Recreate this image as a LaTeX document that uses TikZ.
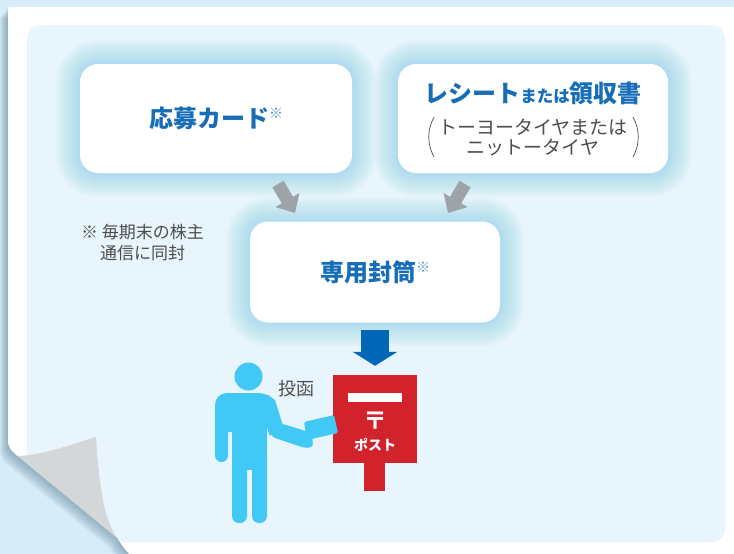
\documentclass[tikz,border=0pt]{standalone}
\usepackage{fontspec}
\setmainfont{Noto Sans CJK JP}
\usetikzlibrary{arrows.meta,calc,positioning}

\definecolor{bandblue}{HTML}{D6ECF8}
\definecolor{panelblue}{HTML}{E8F5FC}
\definecolor{glowblue}{HTML}{7CC8EF}
\definecolor{titleblue}{HTML}{176DB6}
\definecolor{textgray}{HTML}{4D4D4D}
\definecolor{arrowgray}{HTML}{9EA3A9}
\definecolor{arrowblue}{HTML}{0068B7}
\definecolor{postred}{HTML}{D2222B}
\definecolor{skyman}{HTML}{42C8F4}
\definecolor{curlgray}{HTML}{D3D7DA}
\definecolor{shadowgray}{HTML}{5E7F95}

\pgfdeclarelayer{back}
\pgfdeclarelayer{halo}
\pgfsetlayers{back,halo,main}

\tikzset{
  box/.style={fill=white, rounded corners=18pt, inner sep=0pt},
  title/.style={text=titleblue, font=\bfseries\fontsize{24}{24}\selectfont},
  small/.style={text=textgray, font=\fontsize{17}{21}\selectfont, align=center},
  fatgray/.style={arrowgray, line width=13pt, -{Triangle[length=15pt,width=27pt]}},
  paren/.style={textgray, line width=0.7pt},
  sheet outline/.style={insert path={(8,7) -- (760,7) -- (760,570) -- (150,570)
      .. controls (128,556) and (122,546) .. (117,537) -- (19,457)
      .. controls (12,452) and (8,448) .. (8,440) -- cycle}},
}

% small reference mark after a title
\newcommand\kome{\raisebox{9pt}{\mdseries\fontsize{14}{14}\selectfont\color{titleblue!75} ※}}

\begin{document}
\begin{tikzpicture}[x=1pt,y=-1pt]
    \useasboundingbox (0,0) rectangle (734,554);

    \begin{pgfonlayer}{back}
    \fill[bandblue] (0,0) rectangle (734,554);
    % sheet with its shadow
    \foreach \s in {1,2,...,9}
        \fill[shadowgray, opacity=0.075, shift={(-\s*0.9,\s*1.2)}, sheet outline];
    \fill[white, sheet outline];
    \begin{scope}
        \clip[sheet outline];
        \fill[panelblue, rounded corners=13pt] (27,25) rectangle (725,542);
    \end{scope}
    % folded corner
    \fill[curlgray] (18,456) .. controls (45,455) and (72,444) .. (96,437)
        .. controls (99,485) and (104,522) .. (118,539) -- cycle;
    \end{pgfonlayer}

    % boxes
    \node[box, title, minimum width=272pt, minimum height=109pt] (card) at (216,118.5) {応募カード\kome};
    \node[box, minimum width=270pt, minimum height=109pt] (receipt) at (533,118.5) {};
    \node[box, title, minimum width=250pt, minimum height=101pt] (envelope) at (375,272) {専用封筒\kome};

    \node[title] (rtitle) at (533,93) {レシート{\fontsize{16.5}{16.5}\selectfont または}領収書};
    \node[small, font=\fontsize{19}{20}\selectfont] (rsub) at (533,137) {トーヨータイヤまたは\\ニットータイヤ};
    \draw[paren] (434,117) .. controls (427,130) and (427,144) .. (434,157);
    \draw[paren] (633,117) .. controls (640,130) and (640,144) .. (633,157);

    \node[small] (note) at (142.5,243) {※ 毎期末の株主\\通信に同封};

    \begin{pgfonlayer}{halo}
    \foreach \n in {card,receipt,envelope}
        \foreach \r in {1,2,...,24}{
            \pgfmathsetmacro\rc{18+\r}
            \fill[glowblue, opacity=0.025, rounded corners=\rc pt]
                ($(\n.south west)+(-\r,\r)$) rectangle ($(\n.north east)+(\r,-\r)$);}
    \end{pgfonlayer}

    % gray arrows into the envelope
    \coordinate (gl1) at (278,184);
    \coordinate (gl2) at (295,213);
    \coordinate (gr1) at (465,184);
    \coordinate (gr2) at (448,213);
    \draw[fatgray] (gl1) -- (gl2);
    \draw[fatgray] (gr1) -- (gr2);

    % post box
    \node[fill=postred, minimum width=84pt, minimum height=88pt, inner sep=0pt] (post) at (375,419) {};
    \fill[postred] ($(post.south)+(-11,0)$) rectangle ++(21,28);
    \fill[white] (348,393) rectangle (402,402);
    \node[text=white, font=\bfseries\fontsize{24}{24}\selectfont] (mark) at (375,421) {〒};
    \node[text=white, font=\bfseries\fontsize{14}{14}\selectfont] (postlabel) at (375,445) {ポスト};

    \draw[arrowblue, line width=28pt, -{Triangle[length=14pt,width=44pt]},
        shorten <=7pt, shorten >=9pt] (envelope) -- (post);

    % person posting the envelope
    \fill[skyman] (248.5,376.5) circle (14);
    \fill[skyman, rounded corners=12pt] (215,393) rectangle (271,432);
    \fill[skyman, rounded corners=6.5pt] (215,405) rectangle (228,462);
    \fill[skyman] (232,410) rectangle (267,470);
    \fill[skyman, rounded corners=7pt] (232,450) rectangle (247,523);
    \fill[skyman, rounded corners=7pt] (252,450) rectangle (267,523);
    \fill[skyman] (258,393) -- (268,395) -- (275,400) -- (283,426) -- (270,436) -- (264,420) -- cycle;
    \fill[skyman, rounded corners=3pt] (270,424) -- (283,424) -- (312,433) -- (313,447) -- (305,448) -- (272,437) -- cycle;
    \fill[skyman, rounded corners=1.5pt] (304,422) -- (334,415) -- (338,433) -- (307,440) -- cycle;
    \node[small, font=\fontsize{18}{18}\selectfont] (toukan) at (296,389) {投函};
\end{tikzpicture}
\end{document}
